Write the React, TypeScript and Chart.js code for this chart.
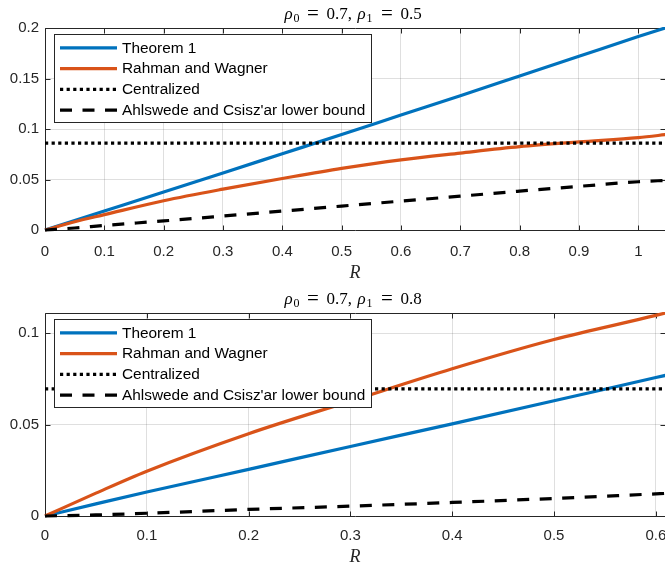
import React, { useEffect, useRef } from "react";
import { Chart, registerables } from "chart.js";

Chart.register(...registerables);

// ---------- Data: top panel (rho0 = 0.7, rho1 = 0.5) ----------
const topTitleRho = ["0.7", "0.5"];
const topR = [0, 0.05, 0.1, 0.2, 0.3, 0.4, 0.5, 0.6, 0.7, 0.8, 0.9, 1.0, 1.05];
const topTheorem1 = [0, 0.0094, 0.0188, 0.0376, 0.0565, 0.0755, 0.0945, 0.1138, 0.133, 0.1525, 0.172, 0.1915, 0.201];
const topRahmanWagner = [0, 0.0082, 0.0152, 0.029, 0.0405, 0.051, 0.061, 0.0695, 0.0762, 0.0825, 0.0872, 0.0915, 0.0947];
const topCentralized = 0.086;
const topAhlswede = [0, 0.002, 0.0045, 0.009, 0.0138, 0.0187, 0.0237, 0.0286, 0.0335, 0.0385, 0.0432, 0.0478, 0.0492];
const topXRange = [0, 1.045];
const topYRange = [0, 0.2];
const topXTicks = [0, 0.1, 0.2, 0.3, 0.4, 0.5, 0.6, 0.7, 0.8, 0.9, 1];
const topYTicks = [0, 0.05, 0.1, 0.15, 0.2];

// ---------- Data: bottom panel (rho0 = 0.7, rho1 = 0.8) ----------
const botTitleRho = ["0.7", "0.8"];
const botR = [0, 0.05, 0.1, 0.2, 0.3, 0.4, 0.5, 0.6, 0.62];
const botTheorem1 = [0, 0.0066, 0.0131, 0.0255, 0.038, 0.0504, 0.063, 0.0757, 0.0782];
const botRahmanWagner = [0, 0.0125, 0.0245, 0.045, 0.0628, 0.0805, 0.0965, 0.1097, 0.1125];
const botCentralized = 0.0695;
const botAhlswede = [0, 0.0006, 0.0015, 0.0036, 0.0054, 0.0074, 0.0096, 0.0121, 0.0126];
const botXRange = [0, 0.609];
const botYRange = [0, 0.111];
const botXTicks = [0, 0.1, 0.2, 0.3, 0.4, 0.5, 0.6];
const botYTicks = [0, 0.05, 0.1];

const seriesLabels = ["Theorem 1", "Rahman and Wagner", "Centralized", "Ahlswede and Csisz'ar lower bound"];
const axisLabelX = "R";

// ---------- Styles ----------
const BLUE = "#0072BD";
const ORANGE = "#D95319";
const TXT = "#262626";
const GRID = "rgba(38,38,38,0.15)";
const SANS = "'Liberation Sans', Arial, sans-serif";
const SERIF = "'Liberation Serif', 'Times New Roman', serif";
const LW = 3.2;

const fmt = (v: number) => String(Math.round(v * 1000) / 1000);

const axesBoxPlugin = {
  id: "axesBox",
  beforeDatasetsDraw(chart: any) {
    const { ctx, chartArea, scales } = chart;
    const { left, right, top, bottom } = chartArea;
    const L = Math.round(left) + 0.5;
    const T = Math.round(top) + 0.5;
    const B = Math.round(bottom) + 0.5;
    const R = Math.round(right) + 0.5;
    ctx.save();
    ctx.setLineDash([]);
    ctx.strokeStyle = TXT;
    ctx.lineWidth = 1;
    ctx.beginPath();
    ctx.moveTo(R, T);
    ctx.lineTo(L, T);
    ctx.lineTo(L, B);
    ctx.lineTo(R, B);
    ctx.stroke();
    const tl = 5;
    ctx.beginPath();
    scales.x.ticks.forEach((t: any) => {
      const px = Math.round(scales.x.getPixelForValue(t.value)) + 0.5;
      ctx.moveTo(px, B);
      ctx.lineTo(px, B - tl);
      ctx.moveTo(px, T);
      ctx.lineTo(px, T + tl);
    });
    scales.y.ticks.forEach((t: any) => {
      const py = Math.round(scales.y.getPixelForValue(t.value)) + 0.5;
      ctx.moveTo(L, py);
      ctx.lineTo(L + tl, py);
      ctx.moveTo(R, py);
      ctx.lineTo(R - tl, py);
    });
    ctx.stroke();
    ctx.restore();
  },
};

const boxLegendPlugin = {
  id: "boxLegend",
  afterDraw(chart: any) {
    const { ctx, chartArea } = chart;
    const bx = Math.round(chartArea.left + 8.5) + 0.5;
    const by = Math.round(chartArea.top + 6) + 0.5;
    const bw = 317;
    const bh = 88;
    ctx.save();
    ctx.fillStyle = "#ffffff";
    ctx.fillRect(bx, by, bw, bh);
    ctx.setLineDash([]);
    ctx.strokeStyle = TXT;
    ctx.lineWidth = 1;
    ctx.strokeRect(bx, by, bw, bh);
    chart.data.datasets.forEach((ds: any, i: number) => {
      const cy = by + 13.3 + i * 20.75;
      ctx.beginPath();
      ctx.setLineDash(ds.borderDash || []);
      ctx.lineDashOffset = 0;
      ctx.lineCap = "butt";
      ctx.strokeStyle = ds.borderColor;
      ctx.lineWidth = ds.borderWidth;
      ctx.moveTo(bx + 5.5, cy);
      ctx.lineTo(bx + 62.5, cy);
      ctx.stroke();
      ctx.setLineDash([]);
      ctx.fillStyle = "#000";
      ctx.font = `15.4px ${SANS}`;
      ctx.textBaseline = "middle";
      ctx.textAlign = "left";
      ctx.fillText(ds.label, bx + 67.5, cy + 0.5);
    });
    ctx.restore();
  },
};

const mathTitlePlugin = {
  id: "mathTitle",
  afterDraw(chart: any, _args: any, opts: any) {
    const { ctx, chartArea } = chart;
    const cx = (chartArea.left + chartArea.right) / 2;
    const x0 = cx - 70.5;
    const base = chartArea.top - 9.3;
    const big = `17px ${SERIF}`;
    const eq = `21px ${SERIF}`;
    const ital = `italic 17px ${SERIF}`;
    const sub = `12px ${SERIF}`;
    const pieces = [
      { t: "ρ", x: 0, f: ital, dy: 0, c: false },
      { t: "0", x: 9, f: sub, dy: 3.5, c: false },
      { t: "=", x: 28.5, f: eq, dy: 1, c: true },
      { t: opts.rho0 + ",", x: 42, f: big, dy: 0, c: false },
      { t: "ρ", x: 73, f: ital, dy: 0, c: false },
      { t: "1", x: 82, f: sub, dy: 3.5, c: false },
      { t: "=", x: 102.5, f: eq, dy: 1, c: true },
      { t: opts.rho1, x: 116, f: big, dy: 0, c: false },
    ];
    ctx.save();
    ctx.fillStyle = "#000";
    ctx.textBaseline = "alphabetic";
    pieces.forEach((p) => {
      ctx.font = p.f;
      ctx.textAlign = p.c ? "center" : "left";
      ctx.fillText(p.t, x0 + p.x, base + p.dy);
    });
    ctx.restore();
  },
};

type PanelProps = {
  r: number[];
  thm: number[];
  rw: number[];
  cen: number;
  ahl: number[];
  xRange: number[];
  yRange: number[];
  xTicks: number[];
  yTicks: number[];
  rho: string[];
  height: number;
  padTop: number;
  xAxisH: number;
  xTickPad: number;
};

function Panel(p: PanelProps) {
  const ref = useRef<HTMLCanvasElement>(null);
  useEffect(() => {
    const pts = (ys: number[]) => p.r.map((x, i) => ({ x, y: ys[i] }));
    const chart = new Chart(ref.current as HTMLCanvasElement, {
      type: "line",
      data: {
        datasets: [
          { label: seriesLabels[0], data: pts(p.thm), borderColor: BLUE, borderWidth: LW, order: 3 },
          { label: seriesLabels[1], data: pts(p.rw), borderColor: ORANGE, borderWidth: LW, order: 2 },
          {
            label: seriesLabels[2],
            data: [
              { x: p.xRange[0], y: p.cen },
              { x: p.xRange[1], y: p.cen },
            ],
            borderColor: "#000",
            borderWidth: LW,
            borderDash: [3.2, 3.4],
            order: 1,
          },
          { label: seriesLabels[3], data: pts(p.ahl), borderColor: "#000", borderWidth: LW, borderDash: [12, 10.5], order: 0 },
        ],
      } as any,
      options: {
        animation: false,
        responsive: false,
        maintainAspectRatio: false,
        layout: { padding: { top: p.padTop, left: 0, right: 0, bottom: 0 } },
        elements: {
          point: { radius: 0, hoverRadius: 0 },
          line: { fill: false, cubicInterpolationMode: "monotone", borderCapStyle: "butt", borderJoinStyle: "round" },
        },
        datasets: { line: { clip: { left: 2, right: 0, top: 1, bottom: 2 } } } as any,
        plugins: {
          legend: { display: false },
          title: { display: false },
          tooltip: { enabled: false },
          mathTitle: { rho0: p.rho[0], rho1: p.rho[1] },
        } as any,
        scales: {
          x: {
            type: "linear",
            min: p.xRange[0],
            max: p.xRange[1],
            border: { display: false },
            grid: { color: GRID, lineWidth: 1, drawTicks: false },
            ticks: {
              padding: p.xTickPad,
              color: TXT,
              font: { family: SANS, size: 15 },
              maxRotation: 0,
              autoSkip: false,
              callback: (v: any) => fmt(Number(v)),
            },
            afterBuildTicks: (s: any) => {
              s.ticks = p.xTicks.map((v) => ({ value: v }));
            },
            title: {
              display: true,
              text: axisLabelX,
              color: TXT,
              font: { family: SERIF, size: 18, style: "italic" },
              padding: { top: 0, bottom: -1 },
            },
            afterFit: (s: any) => {
              s.height = p.xAxisH;
              s.paddingLeft = 0;
              s.paddingRight = 0;
            },
          },
          y: {
            type: "linear",
            min: p.yRange[0],
            max: p.yRange[1],
            border: { display: false },
            grid: { color: GRID, lineWidth: 1, drawTicks: false },
            ticks: {
              padding: 6,
              color: TXT,
              font: { family: SANS, size: 15 },
              autoSkip: false,
              callback: (v: any) => fmt(Number(v)),
            },
            afterBuildTicks: (s: any) => {
              s.ticks = p.yTicks.map((v) => ({ value: v }));
            },
            afterFit: (s: any) => {
              s.width = 45;
              s.paddingTop = 0;
              s.paddingBottom = 0;
            },
          },
        },
      } as any,
      plugins: [axesBoxPlugin, boxLegendPlugin, mathTitlePlugin],
    });
    return () => chart.destroy();
  }, []);
  return (
    <canvas
      ref={ref}
      width={665}
      height={p.height}
      style={{ display: "block", width: 665, height: p.height }}
    />
  );
}

export default function App() {
  return (
    <div style={{ position: "absolute", left: 0, top: 0, width: 665, height: 567, background: "#fff", overflow: "hidden" }}>
      <Panel
        r={topR}
        thm={topTheorem1}
        rw={topRahmanWagner}
        cen={topCentralized}
        ahl={topAhlswede}
        xRange={topXRange}
        yRange={topYRange}
        xTicks={topXTicks}
        yTicks={topYTicks}
        rho={topTitleRho}
        height={283}
        padTop={28}
        xAxisH={53}
        xTickPad={13}
      />
      <Panel
        r={botR}
        thm={botTheorem1}
        rw={botRahmanWagner}
        cen={botCentralized}
        ahl={botAhlswede}
        xRange={botXRange}
        yRange={botYRange}
        xTicks={botXTicks}
        yTicks={botYTicks}
        rho={botTitleRho}
        height={284}
        padTop={30}
        xAxisH={51}
        xTickPad={11}
      />
    </div>
  );
}
